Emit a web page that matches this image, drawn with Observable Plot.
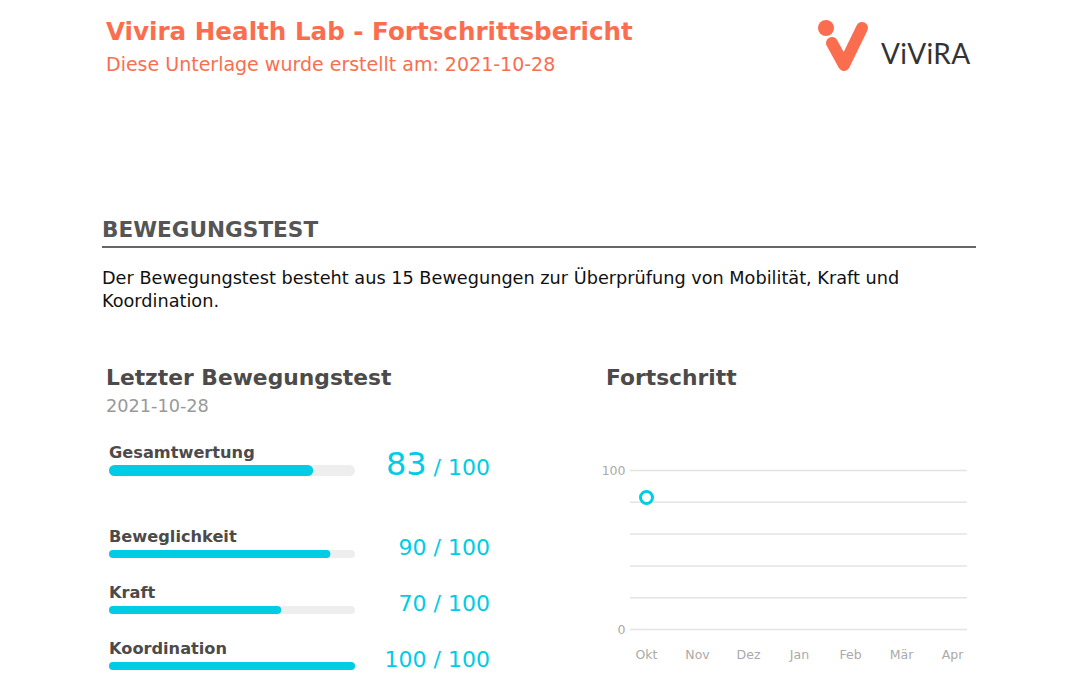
<!DOCTYPE html>
<html>
<head>
<meta charset="utf-8">
<script src="https://cdn.jsdelivr.net/npm/d3@7"></script>
<script src="https://cdn.jsdelivr.net/npm/@observablehq/plot@0.6"></script>
<style>
  html, body { margin: 0; padding: 0; background: #fff; }
  body { width: 1080px; height: 688px; position: relative; overflow: hidden; font-family: "DejaVu Sans", sans-serif; }
  .abs { position: absolute; white-space: nowrap; }
  #title { left: 106px; top: 17px; font-size: 24.6px; font-weight: bold; color: #FA6E4F; }
  #subtitle { left: 106px; top: 53px; font-size: 19px; color: #FA6E4F; }
  #section { left: 102px; top: 217px; font-size: 21.6px; font-weight: bold; color: #555; }
  #rule { left: 102px; top: 246px; width: 874px; height: 2px; background: #666; }
  #para { left: 102px; top: 267px; font-size: 17.7px; line-height: 23px; color: #111; white-space: normal; width: 860px; }
  #h-left { left: 106px; top: 365px; font-size: 21.8px; font-weight: bold; color: #4d4a4a; }
  #h-date { left: 106px; top: 396px; font-size: 17.7px; color: #999; }
  #h-right { left: 606px; top: 365px; font-size: 21.8px; font-weight: bold; color: #4d4a4a; }
  .lbl { font-size: 16.2px; font-weight: bold; color: #4d4a4a; }
  .val { color: #00CCE6; text-align: right; width: 200px; }
</style>
</head>
<body>
<div id="title" class="abs">Vivira Health Lab - Fortschrittsbericht</div>
<div id="subtitle" class="abs">Diese Unterlage wurde erstellt am: 2021-10-28</div>
<svg class="abs" style="left:810px;top:10px" width="180" height="70" viewBox="810 10 180 70">
  <circle cx="826" cy="28" r="8" fill="#FA6E4F"/>
  <path d="M832 43 L844 65 L862 28" fill="none" stroke="#FA6E4F" stroke-width="12" stroke-linecap="round" stroke-linejoin="round"/>
  <text x="881" y="64" font-family="Lato, 'Open Sans', sans-serif" font-size="28" fill="#333" letter-spacing="0.3">ViViRA</text>
</svg>
<div id="section" class="abs">BEWEGUNGSTEST</div>
<div id="rule" class="abs"></div>
<div id="para" class="abs">Der Bewegungstest besteht aus 15 Bewegungen zur Überprüfung von Mobilität, Kraft und Koordination.</div>
<div id="h-left" class="abs">Letzter Bewegungstest</div>
<div id="h-date" class="abs">2021-10-28</div>
<div id="h-right" class="abs">Fortschritt</div>
<div id="rows"></div>
<div id="chart" class="abs" style="left:590px;top:440px"></div>
<script>
// ---- data ----
const testDate = "2021-10-28";
const categories = ["Gesamtwertung", "Beweglichkeit", "Kraft", "Koordination"];
const scores = [83, 90, 70, 100];
const maxScore = 100;
const months = ["Okt", "Nov", "Dez", "Jan", "Feb", "Mär", "Apr"];
const progressMonths = ["Okt"];
const progressScores = [83];
const yTickLabels = [0, 100];
const yGrid = [0, 20, 40, 60, 80, 100];

const cyan = "#00CCE6";
const rowsEl = document.getElementById("rows");
// layout per row (label top, bar top, bar height, value top)
const layout = [
  {labelTop: 443, barTop: 465, barH: 11, valTop: 445, big: true},
  {labelTop: 527, barTop: 550, barH: 8, valTop: 535},
  {labelTop: 583, barTop: 606, barH: 8, valTop: 591},
  {labelTop: 639, barTop: 662, barH: 8, valTop: 647}
];
categories.forEach((cat, i) => {
  const L = layout[i];
  const lab = document.createElement("div");
  lab.className = "abs lbl";
  lab.style.left = "109px"; lab.style.top = L.labelTop + "px";
  lab.textContent = cat;
  rowsEl.appendChild(lab);

  const bar = Plot.plot({
    width: 248, height: L.barH + 2,
    margin: 0, marginLeft: 1, marginRight: 1,
    x: {domain: [0, maxScore], axis: null},
    y: {axis: null},
    marks: [
      Plot.barX([{v: maxScore}], {x1: 0, x2: "v", fill: "#eeeeee", rx: L.barH / 2, insetTop: 1, insetBottom: 1}),
      Plot.barX([{v: scores[i]}], {x1: 0, x2: "v", fill: cyan, rx: L.barH / 2, insetTop: 1, insetBottom: 1})
    ]
  });
  bar.style.position = "absolute";
  bar.style.left = "108px";
  bar.style.top = (L.barTop - 1) + "px";
  rowsEl.appendChild(bar);

  const val = document.createElement("div");
  val.className = "abs val";
  val.style.left = "290px"; val.style.top = L.valTop + "px";
  if (L.big) {
    val.innerHTML = `<span style="font-size:32px">${scores[i]}</span><span style="font-size:22px"> / ${maxScore}</span>`;
  } else {
    val.innerHTML = `<span style="font-size:22px">${scores[i]} / ${maxScore}</span>`;
  }
  rowsEl.appendChild(val);
});

const progress = progressMonths.map((m, i) => ({month: m, score: progressScores[i]}));
const chart = Plot.plot({
  width: 390, height: 230,
  marginLeft: 40, marginRight: 13, marginTop: 30, marginBottom: 41,
  style: {fontFamily: "DejaVu Sans, sans-serif", fontSize: "12.5px", color: "#aaa", background: "transparent"},
  x: {type: "point", domain: months, padding: 0.25, label: null, tickSize: 0, tickPadding: 21},
  y: {domain: [0, 100], ticks: yTickLabels, label: null, tickSize: 0, tickPadding: 5},
  marks: [
    Plot.ruleY(yGrid, {stroke: "#e4e4e4", strokeWidth: 1.5}),
    Plot.dot(progress, {x: "month", y: "score", r: 6, stroke: cyan, strokeWidth: 3, fill: "white"})
  ]
});
document.getElementById("chart").appendChild(chart);
</script>
</body>
</html>
